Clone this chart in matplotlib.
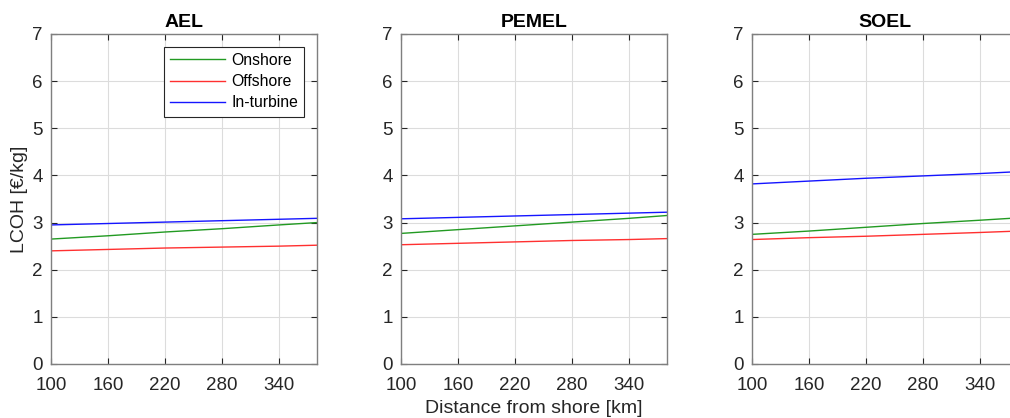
import matplotlib.pyplot as plt
import numpy as np

plt.rcParams['font.family'] = ['Liberation Sans', 'DejaVu Sans']

# distance from shore [km]
dist = [100, 160, 220, 280, 340, 380]

titles = ['AEL', 'PEMEL', 'SOEL']
labels = ['Onshore', 'Offshore', 'In-turbine']

# LCOH [EUR/kg] per technology
ael_on = [2.65, 2.72, 2.80, 2.87, 2.95, 3.00]
ael_off = [2.40, 2.43, 2.46, 2.48, 2.50, 2.52]
ael_turb = [2.95, 2.98, 3.01, 3.04, 3.07, 3.09]

pemel_on = [2.77, 2.85, 2.93, 3.01, 3.09, 3.15]
pemel_off = [2.53, 2.56, 2.59, 2.62, 2.64, 2.66]
pemel_turb = [3.08, 3.11, 3.14, 3.17, 3.20, 3.22]

soel_on = [2.75, 2.82, 2.90, 2.98, 3.05, 3.10]
soel_off = [2.64, 2.68, 2.71, 2.75, 2.79, 2.82]
soel_turb = [3.82, 3.88, 3.94, 3.99, 4.04, 4.08]

data = [(ael_on, ael_off, ael_turb),
        (pemel_on, pemel_off, pemel_turb),
        (soel_on, soel_off, soel_turb)]
colors = ['#229a22', '#ff3030', '#1515ff']

W, H = 1010, 418
fig = plt.figure(figsize=(W / 100, H / 100), dpi=100)
lefts = [51, 401, 752]
axw = 266
top, bot = 34, 364

for i, (t, series) in enumerate(zip(titles, data)):
    ax = fig.add_axes([lefts[i] / W, 1 - bot / H, axw / W, (bot - top) / H])
    for s, c, lab in zip(series, colors, labels):
        ax.plot(dist, s, color=c, lw=1.0, label=lab)
    ax.set_xlim(100, 380)
    ax.set_ylim(0, 7)
    ax.set_xticks([100, 160, 220, 280, 340])
    ax.set_yticks(range(8))
    ax.grid(True, color='#dcdcdc', lw=0.8)
    ax.set_axisbelow(True)
    ax.tick_params(direction='in', top=True, right=True, length=4,
                   labelsize=13.5, colors='#262626', width=0.8)
    ax.tick_params(axis='x', pad=9)
    ax.tick_params(axis='y', pad=6)
    for sp in ax.spines.values():
        sp.set_color('#7f7f7f')
        sp.set_linewidth(1.0)
    ax.set_title(t, fontsize=14, fontweight='bold', pad=5)
    if i == 0:
        ax.set_ylabel('LCOH [€/kg]', fontsize=14, color='#262626', labelpad=3)
        leg = ax.legend(loc='upper right', fontsize=11.3, fancybox=False,
                        edgecolor='#262626', framealpha=1, handlelength=3.5,
                        borderpad=0.4, labelspacing=0.4, handletextpad=0.4,
                        borderaxespad=0.8)
        leg.get_frame().set_linewidth(0.8)
    if i == 1:
        ax.set_xlabel('Distance from shore [km]', fontsize=14, color='#262626', labelpad=5)

fig.savefig('out.png', dpi=100)
